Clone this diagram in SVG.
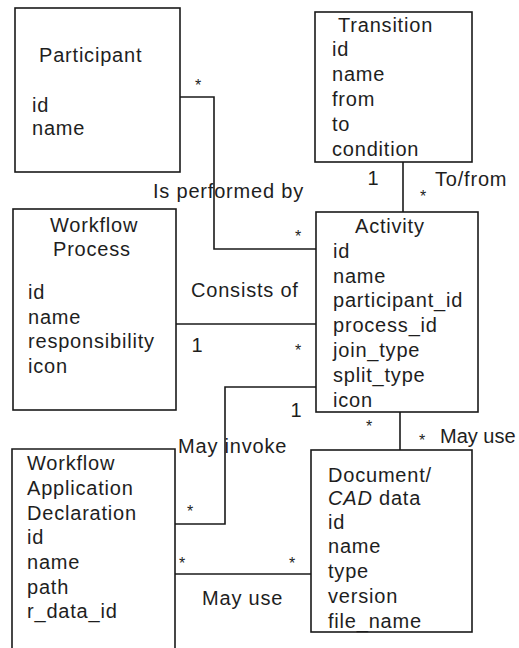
<svg xmlns="http://www.w3.org/2000/svg" width="519" height="648" viewBox="0 0 519 648">
  <style>
    .box { fill: #fff; stroke: #1a1a1a; stroke-width: 1.6; }
    .line { fill: none; stroke: #1a1a1a; stroke-width: 1.6; }
    text { font-family: "Liberation Sans", Arial, sans-serif; font-size: 20px; fill: #1e1e1e; letter-spacing: 0.8px; }
    .star { font-size: 16px; text-anchor: middle; letter-spacing: 0; }
    .mult { text-anchor: middle; letter-spacing: 0; }
    .tight { letter-spacing: 0; }
  </style>
  <rect width="519" height="648" fill="#fff"/>

  <!-- associations -->
  <g id="connectors">
    <path class="line" d="M180,97 H214 V249 H316"/>
    <path class="line" d="M403,162 V212"/>
    <path class="line" d="M176,324 H316"/>
    <path class="line" d="M316,387 H225 V524 H175"/>
    <path class="line" d="M175,574 H311"/>
    <path class="line" d="M400,412 V450"/>
    <text x="153" y="198">Is performed by</text>
    <text x="191" y="297">Consists of</text>
    <text x="435" y="186">To/from</text>
    <text x="178" y="453">May invoke</text>
    <text class="tight" x="440" y="443">May use</text>
    <text x="202" y="605">May use</text>
    <text class="star" x="198" y="91">*</text>
    <text class="star" x="423" y="202">*</text>
    <text class="star" x="298" y="242">*</text>
    <text class="star" x="298" y="356">*</text>
    <text class="star" x="369" y="432">*</text>
    <text class="star" x="422" y="446">*</text>
    <text class="star" x="190" y="517">*</text>
    <text class="star" x="182" y="569">*</text>
    <text class="star" x="292" y="569">*</text>
    <text class="mult" x="373" y="185">1</text>
    <text class="mult" x="197" y="352">1</text>
    <text class="mult" x="296" y="417">1</text>
  </g>

  <g id="participant">
    <rect class="box" x="15" y="8" width="165" height="164"/>
    <text x="39" y="62">Participant</text>
    <text x="32" y="112">id</text>
    <text x="32" y="135">name</text>
  </g>

  <g id="transition">
    <rect class="box" x="315" y="12" width="157" height="150"/>
    <text x="338" y="32">Transition</text>
    <text x="332" y="56">id</text>
    <text x="332" y="81">name</text>
    <text x="332" y="106">from</text>
    <text x="332" y="131">to</text>
    <text x="332" y="156">condition</text>
  </g>

  <g id="workflow-process">
    <rect class="box" x="13" y="209" width="163" height="201"/>
    <text x="50" y="232">Workflow</text>
    <text x="53" y="256">Process</text>
    <text x="28" y="299">id</text>
    <text x="28" y="323.5">name</text>
    <text x="28" y="348">responsibility</text>
    <text x="28" y="372.5">icon</text>
  </g>

  <g id="activity">
    <rect class="box" x="316" y="212" width="162" height="200"/>
    <text x="355" y="233">Activity</text>
    <text x="333" y="257.5">id</text>
    <text x="333" y="282.5">name</text>
    <text x="333" y="307">participant_id</text>
    <text x="333" y="332">process_id</text>
    <text x="333" y="357">join_type</text>
    <text x="333" y="382">split_type</text>
    <text x="333" y="407">icon</text>
  </g>

  <g id="workflow-application-declaration">
    <path class="box" d="M12,660 V449 H175 V660"/>
    <text x="27" y="470">Workflow</text>
    <text x="27" y="495">Application</text>
    <text x="27" y="519.5">Declaration</text>
    <text x="27" y="544">id</text>
    <text x="27" y="569">name</text>
    <text x="27" y="594">path</text>
    <text x="27" y="618">r_data_id</text>
  </g>

  <g id="document-cad-data">
    <rect class="box" x="311" y="450" width="161" height="182"/>
    <text x="328" y="482">Document/</text>
    <text x="328" y="505"><tspan font-style="italic">CAD</tspan> data</text>
    <text x="328" y="529">id</text>
    <text x="328" y="553">name</text>
    <text x="328" y="578">type</text>
    <text x="328" y="603">version</text>
    <text x="328" y="628">file_name</text>
  </g>
</svg>
